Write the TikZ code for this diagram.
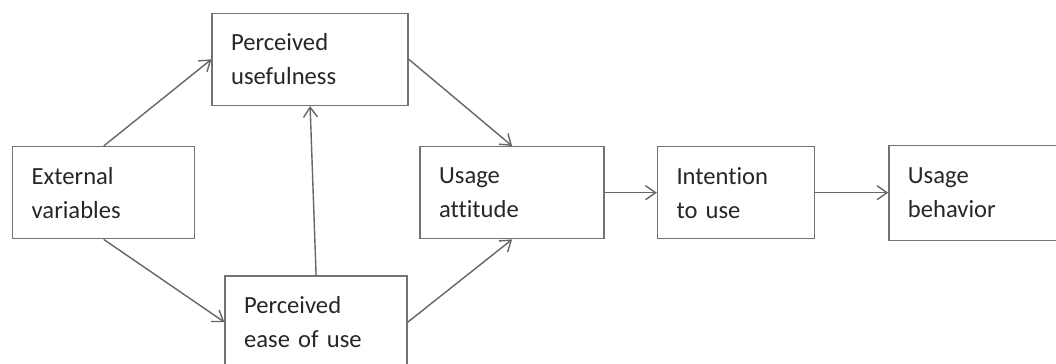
\documentclass[tikz,border=0pt]{standalone}
\usepackage{fontspec}
\setmainfont{Carlito}[Ligatures=NoCommon, WordSpace=0.85]
\usepackage{tikz}
\usetikzlibrary{arrows.meta, positioning}
\usepackage{xcolor}

\begin{document}
\begin{tikzpicture}[
    >={Straight Barb[length=2mm, width=2.8mm]},
    box/.style={
        draw=black!55,
        line width=0.8pt,
        minimum height=1.84cm,
        inner xsep=0.38cm,
        align=left,
        text=black!85,
        font=\fontsize{14pt}{19.3pt}\selectfont
    },
    link/.style={->, draw=black!60, line width=0.8pt}
]

\useasboundingbox (0,0) rectangle (21.12,-7.26);

% Nodes
\node[box, text width=2.88cm, anchor=north west] (ext) at (0.24,-2.92) {External\\variables};
\node[box, text width=3.16cm, above right=0.8cm and 0.32cm of ext] (pu) {Perceived\\usefulness};
\node[box, text width=2.88cm, below right=0.72cm and 0.58cm of ext] (peou) {Perceived\\ease of use};
\node[box, text width=2.92cm, right=4.48cm of ext] (ua) {Usage\\attitude};
\node[box, text width=2.38cm, right=1.04cm of ua] (itu) {Intention\\to use};
\node[box, text width=2.66cm, minimum height=1.9cm, right=1.46cm of itu] (ub) {Usage\\behavior};

% Links into the two perceptions
\draw[link] (ext.north) -- (pu.west);
\draw[link] (ext.south) -- (peou.west);
\draw[link] (peou.north) -- (pu.south);

% Links into attitude
\draw[link] (pu.east) -- (ua.north);
\draw[link] (peou.east) -- (ua.south);

% Main horizontal flow
\draw[link] (ua.east) -- (itu.west);
\draw[link] (itu.east) -- (ub.west);

\end{tikzpicture}
\end{document}
